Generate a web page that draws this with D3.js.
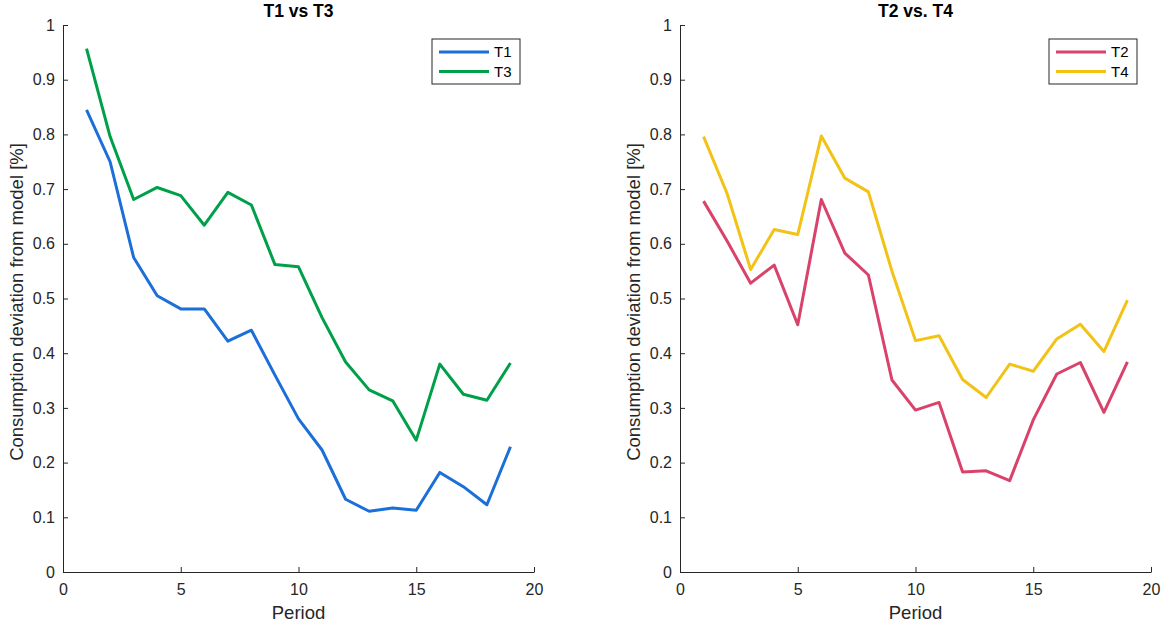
<!DOCTYPE html>
<html>
<head>
<meta charset="utf-8">
<script src="https://cdn.jsdelivr.net/npm/d3@7"></script>
<style>
	body { margin: 0; background: #fff; }
	svg { font-family: "Liberation Sans", Arial, sans-serif; }
	.axis path, .axis line { stroke: #262626; }
	.title { font-size: 17.5px; font-weight: bold; fill: #000; }
	.label { font-size: 18.5px; fill: #262626; }
	.legend text { font-size: 15px; fill: #000; }
</style>
</head>
<body>
<div id="chart"></div>
<script>
// data
const periods = d3.range(1, 20);
const t1 = [0.845, 0.750, 0.575, 0.505, 0.481, 0.481, 0.422, 0.442, 0.360, 0.280, 0.223, 0.133, 0.111, 0.117, 0.113, 0.182, 0.156, 0.123, 0.229];
const t3 = [0.957, 0.796, 0.681, 0.703, 0.688, 0.634, 0.694, 0.671, 0.562, 0.558, 0.465, 0.384, 0.333, 0.313, 0.241, 0.380, 0.325, 0.314, 0.382];
const t2 = [0.678, 0.605, 0.528, 0.561, 0.452, 0.681, 0.583, 0.543, 0.351, 0.296, 0.310, 0.183, 0.185, 0.167, 0.278, 0.362, 0.383, 0.292, 0.384];
const t4 = [0.796, 0.692, 0.553, 0.626, 0.617, 0.797, 0.720, 0.695, 0.550, 0.423, 0.432, 0.352, 0.319, 0.380, 0.367, 0.426, 0.453, 0.403, 0.497];
const xTicks = [0, 5, 10, 15, 20];
const yTicks = d3.range(0, 11).map(d => d / 10);

const panels = [
	{ title: 'T1 vs T3', left: 63, series: [
		{ name: 'T1', values: t1, color: '#1a6fd8' },
		{ name: 'T3', values: t3, color: '#00a04a' }
	]},
	{ title: 'T2 vs. T4', left: 680, series: [
		{ name: 'T2', values: t2, color: '#d9426a' },
		{ name: 'T4', values: t4, color: '#f2c316' }
	]}
];

const width = 1169, height = 630;
const plotW = 471, plotTop = 25, plotBottom = 572;
const font = '"Liberation Sans", Arial, sans-serif';

const svg = d3.select('#chart').append('svg')
	.attr('width', width)
	.attr('height', height);

// matlab-ish axis styling, applied after d3 sets its own defaults
const styleAxis = a => a
	.attr('font-size', 16)
	.attr('font-family', font)
	.call(a => a.selectAll('text').attr('fill', '#262626'));

panels.forEach(p => {
	const x = d3.scaleLinear().domain([0, 20]).range([p.left, p.left + plotW]);
	const y = d3.scaleLinear().domain([0, 1]).range([plotBottom, plotTop]);
	const g = svg.append('g');

	// axes, ticks pointing inward like matlab
	g.append('g')
		.attr('class', 'axis')
		.attr('transform', `translate(0, ${plotBottom})`)
		.call(d3.axisBottom(x).tickValues(xTicks).tickSizeInner(-5).tickSizeOuter(0).tickPadding(12))
		.call(styleAxis)
		.call(a => a.selectAll('text').attr('dy', '0.71em'));
	g.append('g')
		.attr('class', 'axis')
		.attr('transform', `translate(${p.left}, 0)`)
		.call(d3.axisLeft(y).tickValues(yTicks).tickSizeInner(-5).tickSizeOuter(0).tickPadding(8)
			.tickFormat(d3.format('~g')))
		.call(styleAxis);

	// lines
	const line = d3.line()
		.x((d, i) => x(periods[i]))
		.y(d => y(d));
	p.series.forEach(s => {
		g.append('path')
			.datum(s.values)
			.attr('d', line)
			.attr('fill', 'none')
			.attr('stroke', s.color)
			.attr('stroke-width', 3)
			.attr('stroke-linejoin', 'round');
	});

	// titles + labels
	const cx = p.left + plotW / 2;
	g.append('text').attr('class', 'title')
		.attr('x', cx).attr('y', 17)
		.attr('text-anchor', 'middle')
		.text(p.title);
	g.append('text').attr('class', 'label')
		.attr('x', cx).attr('y', 619)
		.attr('text-anchor', 'middle')
		.text('Period');
	g.append('text').attr('class', 'label')
		.attr('transform', `translate(${p.left - 40}, 302) rotate(-90)`)
		.attr('text-anchor', 'middle')
		.text('Consumption deviation from model [%]');

	// legend
	const lx = p.left + plotW - 102, ly = 39;
	const legend = g.append('g').attr('class', 'legend');
	legend.append('rect')
		.attr('x', lx).attr('y', ly)
		.attr('width', 88).attr('height', 45)
		.attr('fill', '#fff')
		.attr('stroke', '#262626')
		.attr('stroke-width', 1);
	p.series.forEach((s, i) => {
		const yy = ly + 13 + i * 19.5;
		legend.append('line')
			.attr('x1', lx + 7).attr('x2', lx + 57)
			.attr('y1', yy).attr('y2', yy)
			.attr('stroke', s.color)
			.attr('stroke-width', 3);
		legend.append('text')
			.attr('x', lx + 62).attr('y', yy + 5)
			.text(s.name);
	});
});
</script>
</body>
</html>
